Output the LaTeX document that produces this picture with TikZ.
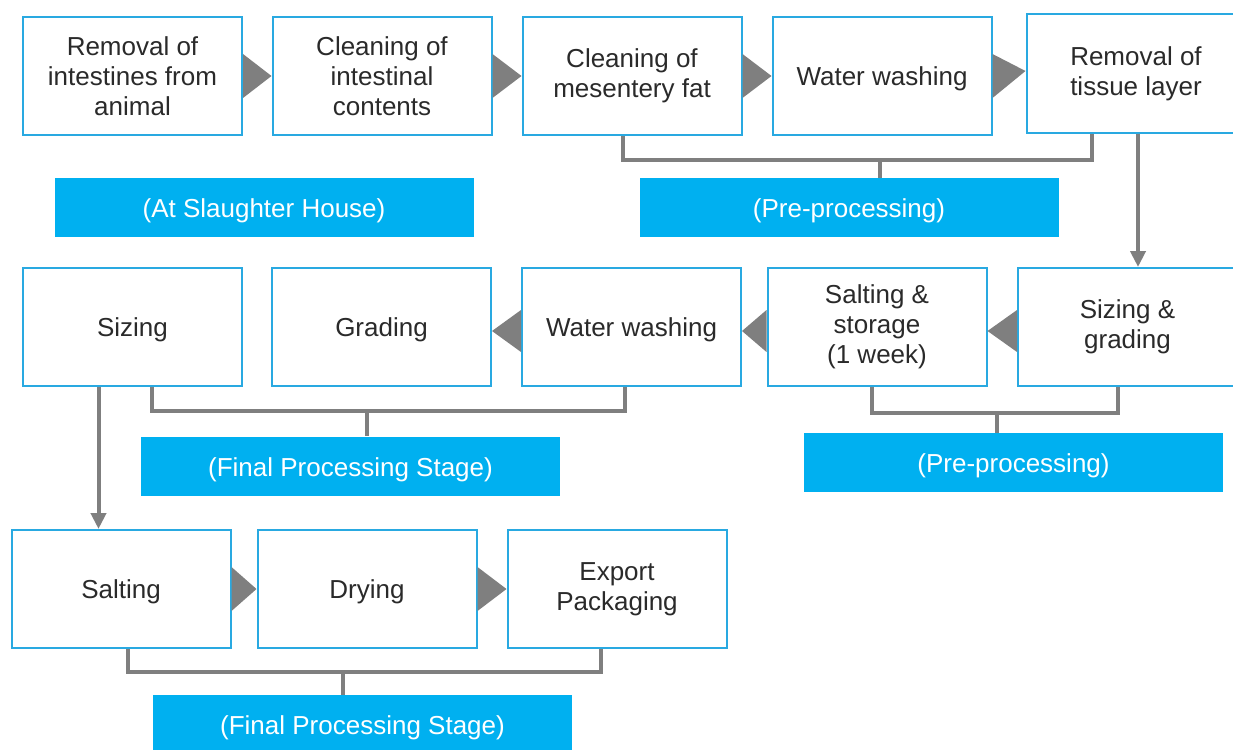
\documentclass[tikz,border=0pt]{standalone}
\usepackage{fontspec}
\setmainfont{Liberation Sans}
\usetikzlibrary{arrows.meta}
\definecolor{boxline}{HTML}{29A9E1}
\definecolor{bandfill}{HTML}{00B0F0}
\definecolor{conngray}{HTML}{7F7F7F}
\definecolor{txt}{HTML}{2A2A2A}
\tikzset{
  stepbox/.style={draw=boxline, line width=2pt, fill=white, minimum width=219pt, minimum height=118pt, inner sep=0pt, align=center, text=txt, font=\fontsize{26}{30}\selectfont, execute at begin node={\rule{0pt}{25pt}}},
  band/.style={fill=bandfill, minimum width=419pt, minimum height=59pt, inner sep=0pt, text=white, font=\fontsize{26}{30}\selectfont, execute at begin node={\rule{0pt}{25.5pt}}},
  conn/.style={draw=conngray, line width=4pt},
  arr/.style={conn, -{Triangle[width=15pt,length=16pt]}},
  tri/.style={fill=conngray},
}
\begin{document}
\begin{tikzpicture}[x=1pt,y=-1pt]
\useasboundingbox (0,0) rectangle (1233,749);
\clip (0,0) rectangle (1233,749);
% Row 1
\node[stepbox] (b1) at (132.5,76) {Removal of\\intestines from\\animal};
\node[stepbox] (b2) at (382,76) {Cleaning of\\intestinal\\contents};
\node[stepbox] (b3) at (632,76) {Cleaning of\\mesentery fat};
\node[stepbox] (b4) at (882,76) {Water washing};
\node[stepbox] (b5) at (1136,73.5) {Removal of\\tissue layer};
% Row 2
\node[stepbox] (c1) at (132.5,327) {Sizing};
\node[stepbox] (c2) at (381.5,327) {Grading};
\node[stepbox] (c3) at (631.5,327) {Water washing};
\node[stepbox] (c4) at (877,327) {Salting \&\\storage\\(1 week)};
\node[stepbox] (c5) at (1127.5,327) {Sizing \&\\grading};
% Row 3
\node[stepbox] (d1) at (121,589) {Salting};
\node[stepbox] (d2) at (367,589) {Drying};
\node[stepbox] (d3) at (617,589) {Export\\Packaging};
% Bands
\node[band] (L1) at (264,207.5) {(At Slaughter House)};
\node[band] (L2) at (849,207.5) {(Pre-processing)};
\node[band] (L3) at (350.5,466) {(Final Processing Stage)};
\node[band] (L4) at (1013.5,462.5) {(Pre-processing)};
\node[band] (L5) at (362.5,724.5) {(Final Processing Stage)};
% Triangles row 1
\fill[tri] ([yshift=22pt]b1.east) -- (b2.west) -- ([yshift=-22pt]b1.east) -- cycle;
\fill[tri] ([yshift=22pt]b2.east) -- (b3.west) -- ([yshift=-22pt]b2.east) -- cycle;
\fill[tri] ([yshift=22pt]b3.east) -- (b4.west) -- ([yshift=-22pt]b3.east) -- cycle;
\fill[tri] ([yshift=22pt]b4.east) -- ([yshift=2.5pt]b5.west) -- ([yshift=-22pt]b4.east) -- cycle;
% Triangles row 2 (pointing left)
\fill[tri] ([yshift=17pt]c3.west) -- ([yshift=-4pt]c2.east) -- ([yshift=-25pt]c3.west) -- cycle;
\fill[tri] ([yshift=17pt]c4.west) -- ([yshift=-4pt]c3.east) -- ([yshift=-25pt]c4.west) -- cycle;
\fill[tri] ([yshift=17pt]c5.west) -- ([yshift=-4pt]c4.east) -- ([yshift=-25pt]c5.west) -- cycle;
% Triangles row 3
\fill[tri] ([yshift=22pt]d1.east) -- (d2.west) -- ([yshift=-22pt]d1.east) -- cycle;
\fill[tri] ([yshift=22pt]d2.east) -- (d3.west) -- ([yshift=-22pt]d2.east) -- cycle;
% Brackets
\coordinate (br1) at (880,160);
\draw[conn] ([xshift=-9pt]b3.south) |- (br1) -| ([xshift=-44pt]b5.south);
\draw[conn] (br1) -- (br1 |- L2.north);
\coordinate (br2) at (367,411);
\draw[conn] ([xshift=19.5pt]c1.south) |- (br2) -| ([xshift=-6.5pt]c3.south);
\draw[conn] (br2) -- (br2 |- L3.north);
\coordinate (br3) at (997,413);
\draw[conn] ([xshift=-5pt]c4.south) |- (br3) -| ([xshift=-9.5pt]c5.south);
\draw[conn] (br3) -- (br3 |- L4.north);
\coordinate (br4) at (343,672);
\draw[conn] ([xshift=7pt]d1.south) |- (br4) -| ([xshift=-16pt]d3.south);
\draw[conn] (br4) -- (br4 |- L5.north);
% Vertical arrows
\draw[arr] ([xshift=2pt]b5.south) -- ([xshift=2pt]b5.south |- c5.north);
\draw[arr] ([xshift=-34pt]c1.south) -- ([xshift=-34pt]c1.south |- d1.north);
\end{tikzpicture}
\end{document}
